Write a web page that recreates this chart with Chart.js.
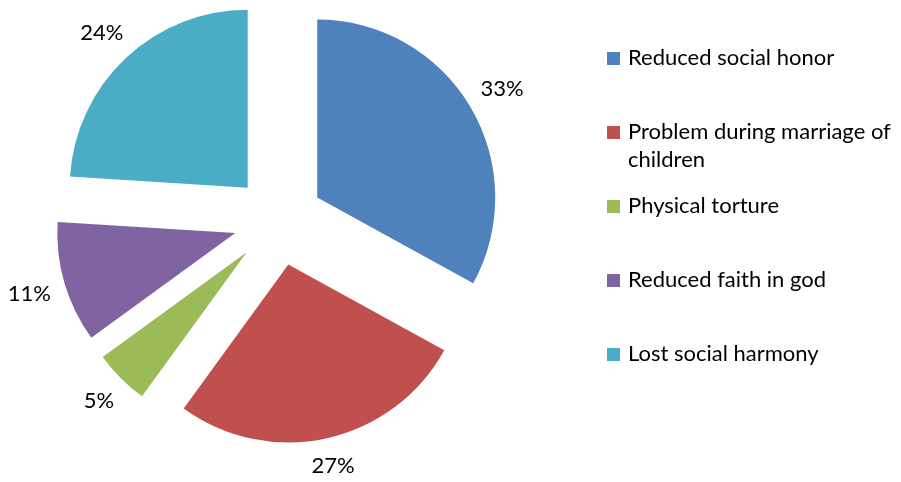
<!DOCTYPE html>
<html>
<head>
<meta charset="utf-8">
<script src="https://cdn.jsdelivr.net/npm/chart.js@4.4.1/dist/chart.umd.min.js"></script>
<style>
  body { margin: 0; background: #fff; }
  #wrap { position: relative; width: 901px; height: 482px; font-family: Lato, sans-serif; }
  #legend { position: absolute; left: 607px; top: 0; width: 294px; height: 482px; }
  .item { position: absolute; left: 0; display: flex; align-items: flex-start; font-size: 22px; line-height: 28px; color: #000; }
  .box { width: 13px; height: 13px; margin-top: 9px; margin-right: 8px; flex: none; }
  .txt { max-width: 280px; }
</style>
</head>
<body>
<div id="wrap">
  <canvas id="pieChart" width="901" height="482"></canvas>
  <div id="legend"></div>
</div>
<script>
const categories = ['Reduced social honor', 'Problem during marriage of children', 'Physical torture', 'Reduced faith in god', 'Lost social harmony'];
const shares = [33, 27, 5, 11, 24];
const colors = ['#4F81BD', '#C0504D', '#9BBB59', '#8064A2', '#4BACC6'];

const EXPLODE = 45;

// push every slice out along its middle angle
const explode = {
  id: 'explode',
  afterDatasetUpdate(chart, args) {
    args.meta.data.forEach(arc => {
      const mid = (arc.startAngle + arc.endAngle) / 2;
      arc.x += Math.cos(mid) * EXPLODE;
      arc.y += Math.sin(mid) * EXPLODE;
    });
  }
};

// percentage labels just outside each slice
const outsideLabels = {
  id: 'outsideLabels',
  afterDatasetsDraw(chart) {
    const ctx = chart.ctx;
    const meta = chart.getDatasetMeta(0);
    ctx.save();
    ctx.font = '22px Lato';
    ctx.fillStyle = '#000';
    ctx.textAlign = 'center';
    ctx.textBaseline = 'middle';
    meta.data.forEach((arc, i) => {
      const mid = (arc.startAngle + arc.endAngle) / 2;
      const ux = Math.cos(mid), uy = Math.sin(mid);
      const text = shares[i] + '%';
      const w = ctx.measureText(text).width;
      const dist = arc.outerRadius + 13 + Math.abs(ux) * w / 2 + Math.abs(uy) * 10;
      ctx.fillText(text, arc.x + ux * dist, arc.y + uy * dist + 1);
    });
    ctx.restore();
  }
};

const htmlLegend = {
  id: 'htmlLegend',
  afterUpdate(chart) {
    const box = document.getElementById('legend');
    box.innerHTML = '';
    const items = chart.options.plugins.legend.labels.generateLabels(chart);
    items.forEach((item, i) => {
      const row = document.createElement('div');
      row.className = 'item';
      row.style.top = (43 + i * 74) + 'px';
      row.innerHTML = `<span class="box" style="background:${item.fillStyle}"></span><span class="txt">${item.text}</span>`;
      box.appendChild(row);
    });
  }
};

new Chart(document.getElementById('pieChart'), {
  type: 'pie',
  data: {
    labels: categories,
    datasets: [{ data: shares, backgroundColor: colors, borderWidth: 0 }]
  },
  options: {
    responsive: false,
    animation: false,
    radius: 178,
    layout: { padding: { left: 0, top: 0, right: 344, bottom: 41 } },
    plugins: { legend: { display: false }, tooltip: { enabled: false } }
  },
  plugins: [explode, outsideLabels, htmlLegend]
});
</script>
</body>
</html>
